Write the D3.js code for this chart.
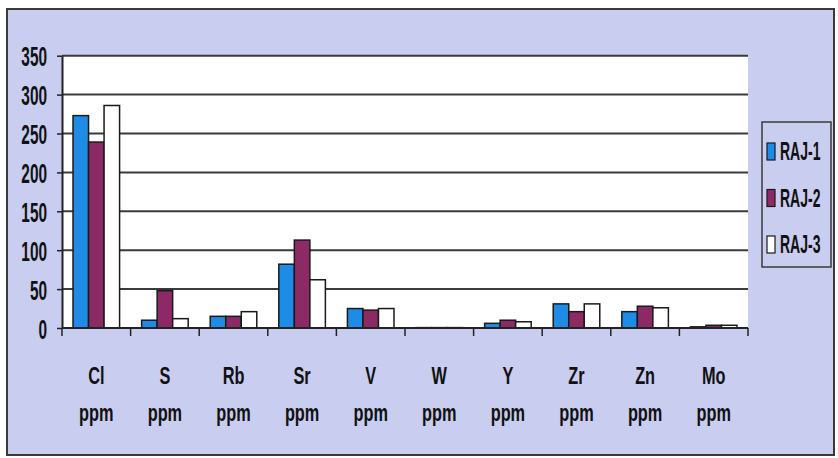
<!DOCTYPE html>
<html><head><meta charset="utf-8">
<script src="https://cdn.jsdelivr.net/npm/d3@7"></script>
<style>html,body{margin:0;padding:0;background:#fff;}svg{display:block;}</style>
</head><body>
<script>
const categories = ["Cl","S","Rb","Sr","V","W","Y","Zr","Zn","Mo"];
const unitLabel = "ppm";
const seriesNames = ["RAJ-1","RAJ-2","RAJ-3"];
const raj1 = [273, 10, 15, 82, 25, 0.5, 6, 31, 21, 1.5];
const raj2 = [239, 48, 15, 113, 23, 0.5, 10, 21, 28, 3.5];
const raj3 = [286, 12, 21, 62, 25, 0.5, 8, 31, 26, 3.5];
const yTicks = [0,50,100,150,200,250,300,350];
const seriesColors = ["#1e8ce6","#8c2a66","#ffffff"];

const W = 838, H = 458;
const svg = d3.select("body").append("svg").attr("width", W).attr("height", H);
const FONT = "'Liberation Sans', Arial, sans-serif";

// frame
svg.append("rect").attr("x",7).attr("y",9).attr("width",827).attr("height",446)
  .attr("fill","#c9cdf0").attr("stroke","#3a3a3a").attr("stroke-width",2);

const x0 = d3.scaleBand().domain(categories).range([62,748]).paddingInner(0).paddingOuter(0);
const x1 = d3.scaleBand().domain(seriesNames).range([0,x0.bandwidth()]).paddingInner(0).paddingOuter(0.71);
const y = d3.scaleLinear().domain([0,350]).range([328,55.7]);

// plot area
svg.append("rect").attr("x",62).attr("y",y(350)).attr("width",748-62).attr("height",y(0)-y(350)).attr("fill","#ffffff");

// gridlines
svg.append("g").selectAll("line").data(yTicks.filter(d=>d>0)).join("line")
  .attr("x1",62).attr("x2",748).attr("y1",d=>y(d)).attr("y2",d=>y(d))
  .attr("stroke","#3a3a3a").attr("stroke-width",2);

// bars
const series = [raj1, raj2, raj3];
const gBars = svg.append("g");
series.forEach((vals, si) => {
  gBars.append("g").selectAll("rect").data(categories.map((c,i)=>({c, v: vals[i]}))).join("rect")
    .attr("x", d => x0(d.c) + x1(seriesNames[si]))
    .attr("width", x1.bandwidth())
    .attr("y", d => y(d.v))
    .attr("height", d => y(0) - y(d.v))
    .attr("fill", seriesColors[si])
    .attr("stroke", "#1a1a1a").attr("stroke-width", 1.5);
});

// y axis
const yAxis = svg.append("g").attr("transform","translate(62,0)")
  .call(d3.axisLeft(y).tickValues(yTicks).tickSize(5).tickSizeOuter(0).tickPadding(0));
yAxis.select(".domain").attr("stroke","#222").attr("stroke-width",2);
yAxis.selectAll(".tick line").attr("stroke","#222").attr("stroke-width",1.5);
const sy = 0.55;
yAxis.selectAll(".tick text")
  .attr("font-family",FONT).attr("font-size",28).attr("font-weight","bold").attr("fill","#111")
  .attr("x", -15/sy).attr("dy","0.36em")
  .attr("transform",`scale(${sy},1)`);

// x axis
const xAxisG = svg.append("g").attr("transform",`translate(0,${y(0)})`);
xAxisG.append("line").attr("x1",62).attr("x2",748).attr("y1",0).attr("y2",0).attr("stroke","#222").attr("stroke-width",2);
const bounds = categories.map(c => x0(c)).concat([x0(categories[categories.length-1]) + x0.bandwidth()]);
xAxisG.selectAll("line.tk").data(bounds).join("line").attr("class","tk")
  .attr("x1",d=>d).attr("x2",d=>d).attr("y1",0).attr("y2",8).attr("stroke","#222").attr("stroke-width",1.5);

const sx = 0.68;
const catG = svg.append("g");
categories.forEach(c => {
  const cx = x0(c) + x0.bandwidth()/2;
  const g = catG.append("g").attr("transform",`translate(${cx},0) scale(${sx},1)`);
  g.append("text").attr("x",0).attr("y",384).attr("text-anchor","middle")
    .attr("font-family",FONT).attr("font-size",24).attr("font-weight","bold").attr("fill","#111").text(c);
  g.append("text").attr("x",0).attr("y",421).attr("text-anchor","middle")
    .attr("font-family",FONT).attr("font-size",24).attr("font-weight","bold").attr("fill","#111").text(unitLabel);
});

// legend
const lg = svg.append("g");
lg.append("rect").attr("x",762).attr("y",122).attr("width",69).attr("height",145)
  .attr("fill","none").attr("stroke","#3a3a3a").attr("stroke-width",1.5);
const sl = 0.56;
seriesNames.forEach((name, i) => {
  const base = 160 + i*46.5;
  lg.append("rect").attr("x",767).attr("y",base-17).attr("width",8).attr("height",17)
    .attr("fill",seriesColors[i]).attr("stroke","#1a1a1a").attr("stroke-width",1.2);
  lg.append("text").attr("transform",`translate(780,${base}) scale(${sl},1)`)
    .attr("font-family",FONT).attr("font-size",25).attr("font-weight","bold").attr("fill","#111").text(name);
});
</script>
</body></html>
